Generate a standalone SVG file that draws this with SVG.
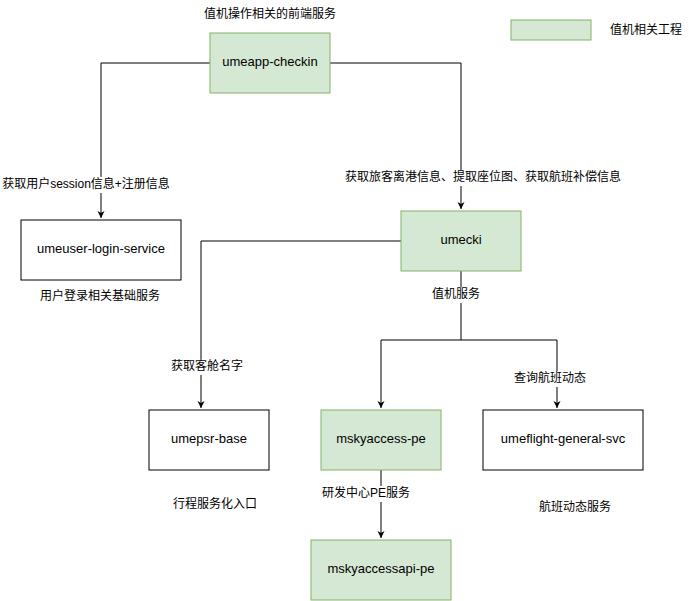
<svg xmlns="http://www.w3.org/2000/svg" width="690" height="601" viewBox="0 0 690 601">
<style>
.g{fill:#d5e8d4;stroke:#82b366;stroke-width:1}
.w{fill:#fff;stroke:#000;stroke-width:1}
.t{font-family:"Liberation Sans","Noto Sans CJK SC",sans-serif;font-size:13px;text-anchor:middle;dominant-baseline:middle;fill:#000}
.l{font-family:"Liberation Sans","Noto Sans CJK SC",sans-serif;font-size:12px;text-anchor:middle;dominant-baseline:middle;fill:#000}
.c{fill:none;stroke:#000;stroke-width:1}
</style>
<defs><marker id="a" markerWidth="8" markerHeight="8" refX="7" refY="4" orient="auto" markerUnits="userSpaceOnUse"><path d="M0,0.5 L7,4 L0,7.5 L2,4 Z" fill="#000"/></marker></defs>
<rect width="690" height="601" fill="#fff"/>
<g id="connectors">
<path class="c" d="M210,63 H101 V218" marker-end="url(#a)"/>
<path class="c" d="M330,63 H461 V209" marker-end="url(#a)"/>
<path class="c" d="M401,241 H201 V408" marker-end="url(#a)"/>
<path class="c" d="M461,271 V340 H381 V408" marker-end="url(#a)"/>
<path class="c" d="M461,340 H557 V408" marker-end="url(#a)"/>
<path class="c" d="M381,470 V538" marker-end="url(#a)"/>
</g>
<g id="labels">
<text class="l" x="270" y="15">值机操作相关的前端服务</text>
<rect x="0" y="177" width="172" height="16" fill="#fff"/>
<text class="l" x="86" y="185">获取用户session信息+注册信息</text>
<rect x="342" y="170" width="282" height="16" fill="#fff"/>
<text class="l" x="483" y="178">获取旅客离港信息、提取座位图、获取航班补偿信息</text>
<text class="l" x="100" y="297">用户登录相关基础服务</text>
<rect x="430" y="287" width="52" height="16" fill="#fff"/>
<text class="l" x="456" y="295">值机服务</text>
<rect x="170" y="359" width="74" height="16" fill="#fff"/>
<text class="l" x="207" y="367">获取客舱名字</text>
<rect x="513" y="371" width="74" height="16" fill="#fff"/>
<text class="l" x="550" y="379">查询航班动态</text>
<text class="l" x="215" y="505">行程服务化入口</text>
<rect x="320" y="486" width="92" height="16" fill="#fff"/>
<text class="l" x="366" y="494">研发中心PE服务</text>
<text class="l" x="575" y="508">航班动态服务</text>
<text class="l" x="646" y="31">值机相关工程</text>
</g>
<g id="legend"><rect class="g" x="511" y="20" width="80" height="20"/></g>
<g id="umeapp-checkin"><rect class="g" x="210" y="33" width="120" height="60"/><text class="t" x="270" y="63">umeapp-checkin</text></g>
<g id="umeuser-login-service"><rect class="w" x="21" y="220" width="160" height="60"/><text class="t" x="101" y="250">umeuser-login-service</text></g>
<g id="umecki"><rect class="g" x="401" y="211" width="120" height="60"/><text class="t" x="461" y="241">umecki</text></g>
<g id="umepsr-base"><rect class="w" x="149" y="410" width="120" height="60"/><text class="t" x="209" y="440">umepsr-base</text></g>
<g id="mskyaccess-pe"><rect class="g" x="321" y="410" width="120" height="60"/><text class="t" x="381" y="440">mskyaccess-pe</text></g>
<g id="umeflight-general-svc"><rect class="w" x="483" y="410" width="160" height="60"/><text class="t" x="563" y="440">umeflight-general-svc</text></g>
<g id="mskyaccessapi-pe"><rect class="g" x="311" y="540" width="140" height="60"/><text class="t" x="381" y="570">mskyaccessapi-pe</text></g>
</svg>
